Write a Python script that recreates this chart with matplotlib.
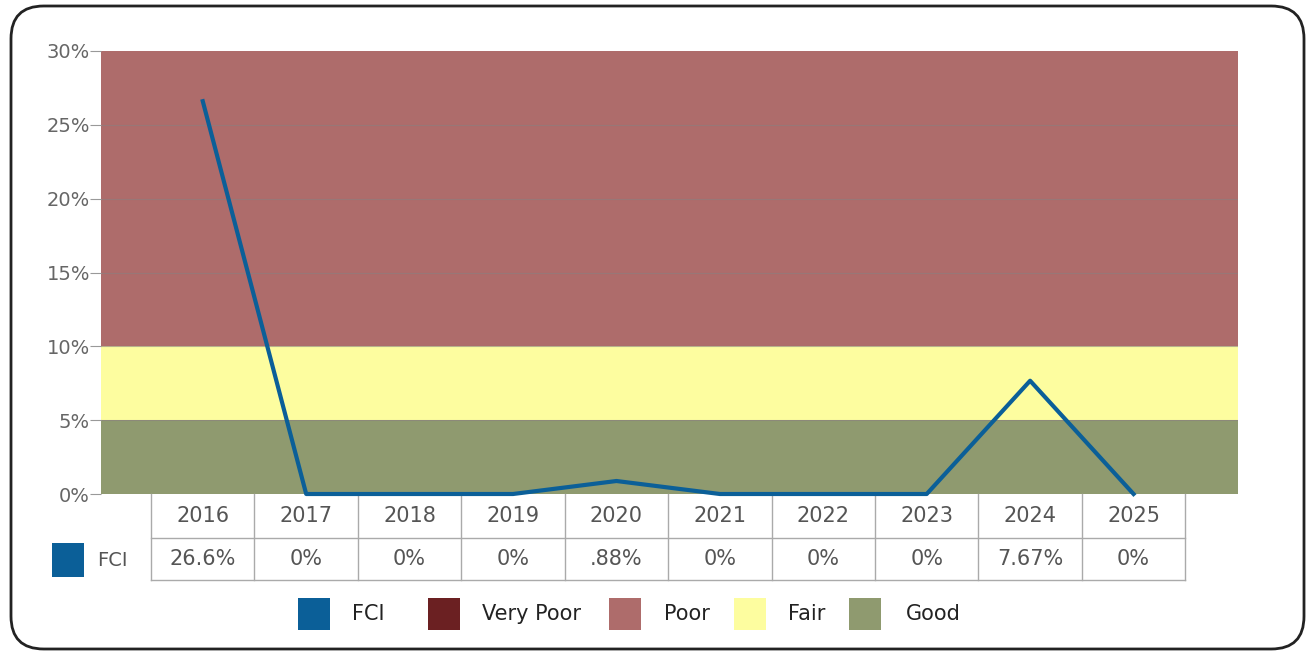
import matplotlib
matplotlib.use("Agg")
import matplotlib.pyplot as plt
from matplotlib.patches import Rectangle, FancyBboxPatch
from matplotlib.lines import Line2D
import matplotlib.transforms as mtransforms

# ---- data ----
years = ["2016", "2017", "2018", "2019", "2020", "2021", "2022", "2023", "2024", "2025"]
fci = [26.6, 0, 0, 0, 0.88, 0, 0, 0, 7.67, 0]
fci_labels = ["26.6%", "0%", "0%", "0%", ".88%", "0%", "0%", "0%", "7.67%", "0%"]
bands = [("Good", 0, 5), ("Fair", 5, 10), ("Poor", 10, 30)]
yticks = [0, 5, 10, 15, 20, 25, 30]
legend_names = ["FCI", "Very Poor", "Poor", "Fair", "Good"]

colors = {"FCI": "#0b5f98", "Very Poor": "#6b2022", "Poor": "#ae6c6b",
          "Fair": "#fdfd9f", "Good": "#8f9a6f"}

plt.rcParams["font.family"] = ["DejaVu Sans"]

W, H = 1309, 653
fig = plt.figure(figsize=(W / 100, H / 100), dpi=100)
fig.patch.set_facecolor("white")

def fx(px):
    return px / W

def fy(py):
    return 1 - py / H

# rounded frame
frame = FancyBboxPatch((fx(11), fy(649)), fx(1304) - fx(11), fy(6) - fy(649),
                       boxstyle="round,pad=0,rounding_size=0.025",
                       transform=fig.transFigure, facecolor="white",
                       edgecolor="#222222", linewidth=2, mutation_aspect=W / H,
                       zorder=-10)
fig.add_artist(frame)

L, R, T, B = 101, 1238, 51, 494
ax = fig.add_axes([fx(L), fy(B), fx(R) - fx(L), fy(T) - fy(B)])
ax.set_zorder(5)
ax.set_xlim(-0.984, 10.01)
ax.set_ylim(0, 30)

for name, lo, hi in bands:
    ax.axhspan(lo, hi, color=colors[name], zorder=0, linewidth=0)
for t in yticks[1:-1]:
    ax.axhline(t, color="#8a7f80", linewidth=0.8, alpha=0.6, zorder=1)

x = list(range(len(years)))
ax.plot(x, fci, color=colors["FCI"], linewidth=3.0, zorder=3, clip_on=False,
        solid_joinstyle="round")

for s in ax.spines.values():
    s.set_visible(False)
ax.set_xticks([])
ax.set_yticks(yticks)
ax.set_yticklabels([f"{t}%" for t in yticks])
ax.tick_params(axis="y", length=8, width=0.8, color="#999999", labelcolor="#666666",
               labelsize=14, pad=0)

# table under axis (x in data, y in axes coords)
trans = mtransforms.blended_transform_factory(ax.transData, ax.transAxes)
axh = B - T
def ay(py):
    return (B - py) / axh

y0, y1, y2 = ay(494), ay(538), ay(580)
lc = "#aaaaaa"
n = len(years)
xl, xr = -0.5, n - 0.5
for yy in (y1, y2):
    ax.add_line(Line2D([xl, xr], [yy, yy], transform=trans, color=lc, lw=1, clip_on=False))
for i in range(n + 1):
    ax.add_line(Line2D([i - 0.5, i - 0.5], [y0, y2], transform=trans, color=lc, lw=1,
                       clip_on=False))
for i, (yr, lab) in enumerate(zip(years, fci_labels)):
    ax.text(i, (y0 + y1) / 2, yr, transform=trans, ha="center", va="center",
            fontsize=15, color="#555555")
    ax.text(i, (y1 + y2) / 2, lab, transform=trans, ha="center", va="center",
            fontsize=15, color="#555555")

# row legend swatch
fig.add_artist(Rectangle((fx(52), fy(577)), fx(84) - fx(52), fy(543) - fy(577),
                         transform=fig.transFigure, facecolor=colors["FCI"], edgecolor="none"))
fig.text(fx(97), fy(560), "FCI", ha="left", va="center", fontsize=14, color="#555555")

# bottom legend
sw = [(298, 352), (428, 482), (609, 664), (734, 788), (849, 906)]
for name, (sx, tx) in zip(legend_names, sw):
    fig.add_artist(Rectangle((fx(sx), fy(630)), fx(sx + 32) - fx(sx), fy(598) - fy(630),
                             transform=fig.transFigure, facecolor=colors[name],
                             edgecolor="none"))
    fig.text(fx(tx), fy(614), name, ha="left", va="center", fontsize=15, color="#222222")

fig.savefig("out.png", dpi=100)
